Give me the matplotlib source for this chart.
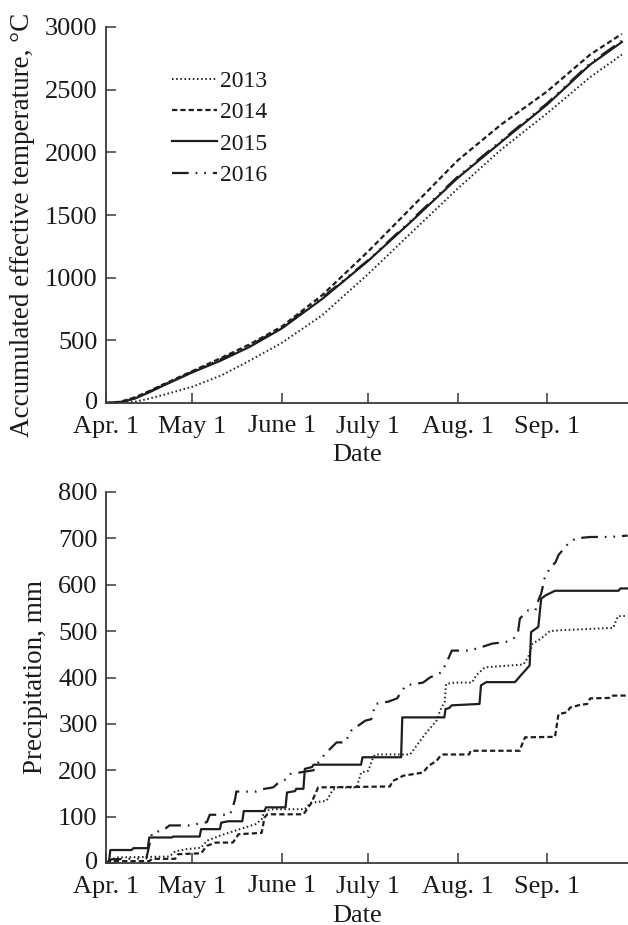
import matplotlib.pyplot as plt
from matplotlib.transforms import ScaledTranslation

plt.rcParams['font.family'] = ['Liberation Serif', 'DejaVu Serif']
plt.rcParams['lines.scale_dashes'] = False

# x axis: days since April 1
month_labels = ['Apr. 1', 'May 1', 'June 1', 'July 1', 'Aug. 1', 'Sep. 1']
month_days = [0, 30, 61, 91, 122, 153]
years = ['2013', '2014', '2015', '2016']

# accumulated effective temperature, °C
temp_days = [0, 5, 10, 15, 20, 30, 40, 50, 61, 75, 91, 106, 122, 137, 153, 168, 179]
temp_2013 = [0, 2, 10, 35, 65, 130, 220, 340, 480, 700, 1030, 1360, 1710, 2020, 2310, 2600, 2780]
temp_2014 = [0, 10, 45, 95, 150, 255, 360, 470, 610, 860, 1210, 1560, 1935, 2220, 2485, 2780, 2945]
temp_2015 = [0, 5, 35, 85, 140, 245, 340, 450, 595, 830, 1135, 1450, 1795, 2080, 2380, 2700, 2880]
temp_2016 = [0, 8, 40, 90, 145, 250, 350, 460, 600, 840, 1140, 1460, 1805, 2090, 2390, 2710, 2890]

# accumulated precipitation, mm (day, value)
prec_2013_days = [0, 2, 4, 22, 24, 28, 33, 35, 40, 45, 48, 52, 54, 55, 58, 69, 71, 76.5, 78.5, 80, 87,
                  88.5, 91, 92.7, 93.5, 105.5, 108, 111, 114.7, 116, 117.5, 118, 121, 127, 128.5,
                  131.5, 144.8, 146.5, 148, 151, 154, 158, 176, 177.6, 181]
prec_2013 = [0, 8, 12, 14, 25, 30, 33, 48, 60, 70, 76, 84, 94, 112, 116, 116, 130, 134, 156, 163, 163,
             195, 199, 228, 234, 234, 255, 280, 307, 330, 347, 386, 389, 389, 405,
             422, 428, 444, 473, 484, 500, 502, 507, 532, 533]

prec_2014_days = [0, 1, 15, 16, 24, 25, 33, 35, 38, 44, 46, 54, 55, 56, 68.5, 71, 72, 73.6, 98.5, 99.5,
                  102, 103, 110, 112, 114.7, 116, 117, 126, 126.5, 143.6, 144, 145.4, 155.8, 157,
                  160, 161, 164.5, 167, 168, 175, 176, 181]
prec_2014 = [0, 4, 4, 9, 9, 19, 21, 37, 44, 44, 62, 65, 98, 105, 105, 127, 140, 163, 165, 177,
             184, 188, 195, 210, 220, 231, 234, 234, 242, 242, 250, 271, 272, 321,
             325, 335, 341, 343, 355, 356, 361, 361]

prec_2015_days = [0, 1, 1.5, 8.9, 9.5, 14.5, 15, 22.8, 23.3, 32.5, 33, 39.5, 40, 42.4, 47.3, 47.8, 55,
                  55.5, 62.3, 62.8, 65.6, 66, 68.5, 69, 71.5, 72, 88.5, 89, 102.4, 102.8, 117.4,
                  117.8, 119, 120, 129.6, 130.1, 132, 141.9, 144, 147, 147.5, 150, 151, 152.5,
                  155.8, 177.8, 178.5, 181]
prec_2015 = [0, 0, 28, 28, 32, 32, 55, 55, 57, 57, 73, 73, 87, 90, 90, 112, 112,
             120, 120, 152, 155, 160, 160, 203, 207, 212, 212, 228, 228, 314, 314,
             332, 334, 340, 343, 383, 390, 390, 405, 426, 498, 509, 570, 577,
             587, 587, 592, 592]

prec_2016_days = [0, 2, 14, 16, 20, 22, 30, 32, 35, 36, 43, 44, 44.8, 45.2, 52, 55, 58, 60, 63, 64,
                  72, 74, 76, 80, 83, 85, 90, 92, 93.5, 98, 101, 104, 110, 112.4, 116.4, 118,
                  119, 120, 126, 130, 134, 140, 142, 143, 143.6, 146.5, 149, 150, 151, 152.3,
                  154, 156, 157, 160.4, 163, 168, 175, 181]
prec_2016 = [0, 8, 10, 65, 71, 81, 81, 85, 88, 104, 104, 120, 138, 154, 154, 160, 163, 174, 182, 192,
             200, 220, 235, 260, 260, 285, 307, 310, 343, 348, 355, 383, 389, 400, 411, 430,
             444, 458, 458, 465, 473, 478, 487, 500, 527, 545, 545, 566, 581, 617,
             635, 649, 664, 689, 700, 703, 703, 706]

line_color = '#1e1e1e'
styles = {
    '2013': dict(linestyle=(0, (1.1, 1.9)), linewidth=1.4),
    '2014': dict(linestyle=(0, (3.8, 2.2)), linewidth=1.6),
    '2015': dict(linestyle='-', linewidth=1.6),
    '2016': dict(linestyle=(0, (12, 5, 1.2, 5, 1.2, 5)), linewidth=1.6),
}

fig = plt.figure(figsize=(6.28, 9.25), dpi=100)
ax1 = fig.add_axes([106 / 628, 1 - 403 / 925, 522 / 628, 376 / 925])
ax2 = fig.add_axes([106 / 628, 1 - 863 / 925, 522 / 628, 371 / 925])

temps = [temp_2013, temp_2014, temp_2015, temp_2016]
for year, vals in zip(years, temps):
    ax1.plot(temp_days, vals, color=line_color, label=year, **styles[year])

precs = [(prec_2013_days, prec_2013), (prec_2014_days, prec_2014),
         (prec_2015_days, prec_2015), (prec_2016_days, prec_2016)]
for year, (d, vals) in zip(years, precs):
    ax2.plot(d, vals, color=line_color, label=year, **styles[year])

fs = 19
for ax in (ax1, ax2):
    ax.set_xlim(0, 522 / 2.882)
    ax.set_xticks(month_days)
    ax.set_xticklabels(month_labels)
    ax.spines['top'].set_visible(False)
    ax.spines['right'].set_visible(False)
    for s in ('left', 'bottom'):
        ax.spines[s].set_color('#3a3a3a')
        ax.spines[s].set_linewidth(1.3)
    ax.tick_params(direction='in', length=7, width=1.1, color='#3a3a3a',
                   labelsize=fs, labelcolor='#1a1a1a', pad=6)
    ax.tick_params(axis='x', pad=9)
    ax.set_xlabel('Date', fontsize=fs, color='#1a1a1a', labelpad=0)

ax1.xaxis.set_label_coords(0.481, -0.108)
ax2.xaxis.set_label_coords(0.481, -0.112)

ax1.set_ylim(0, 3000)
ax1.set_yticks([0, 500, 1000, 1500, 2000, 2500, 3000])
ax1.set_ylabel('Accumulated effective temperature, °C', fontsize=19.5, color='#1a1a1a')
ax1.yaxis.set_label_coords(-0.136, 0.473)

ax2.set_ylim(0, 800)
ax2.set_yticks(range(0, 801, 100))
ax2.set_ylabel('Precipitation, mm', fontsize=19.5, color='#1a1a1a')
ax2.yaxis.set_label_coords(-0.111, 0.5)

# lift the "0" labels a touch so they do not collide with "Apr. 1"
for ax in (ax1, ax2):
    lbl = ax.get_yticklabels()[0]
    lbl.set_transform(lbl.get_transform() + ScaledTranslation(0, 2 / 72, fig.dpi_scale_trans))

ax1.legend(loc='upper left', bbox_to_anchor=(0.126, 0.885), frameon=False,
           fontsize=17, handlelength=1.9, handletextpad=0.15, labelspacing=0.42,
           borderpad=0, borderaxespad=0, labelcolor='#1a1a1a')

fig.savefig('out.png', dpi=100)
